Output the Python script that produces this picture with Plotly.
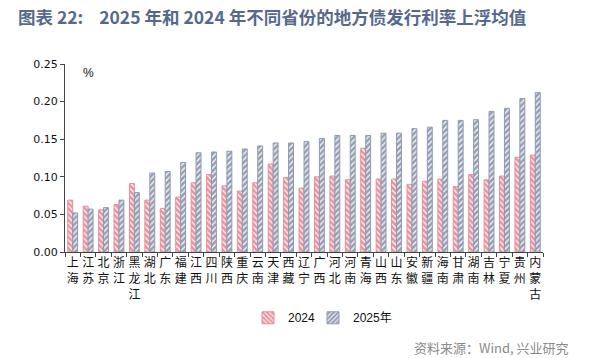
import plotly.graph_objects as go

provinces = ["上海", "江苏", "北京", "浙江", "黑龙江", "湖北", "广东", "福建", "江西", "四川",
             "陕西", "重庆", "云南", "天津", "西藏", "辽宁", "广西", "河北", "河南", "青海",
             "山西", "山东", "安徽", "新疆", "海南", "甘肃", "湖南", "吉林", "宁夏", "贵州", "内蒙古"]
v2024 = [0.069, 0.061, 0.056, 0.063, 0.091, 0.069, 0.058, 0.073, 0.092, 0.103,
         0.088, 0.081, 0.092, 0.117, 0.099, 0.085, 0.100, 0.101, 0.096, 0.138,
         0.097, 0.097, 0.090, 0.094, 0.097, 0.087, 0.103, 0.096, 0.101, 0.126, 0.129]
v2025 = [0.052, 0.057, 0.059, 0.069, 0.079, 0.105, 0.107, 0.119, 0.132, 0.133,
         0.134, 0.137, 0.141, 0.145, 0.145, 0.147, 0.151, 0.155, 0.155, 0.155,
         0.158, 0.158, 0.164, 0.166, 0.175, 0.175, 0.176, 0.187, 0.191, 0.204, 0.212]
yticks = [0, 0.05, 0.10, 0.15, 0.20, 0.25]

labels = ["<br>".join(list(p)) for p in provinces]

fig = go.Figure()
fig.add_trace(go.Bar(
    x=labels, y=v2024, name="2024",
    marker=dict(color="white",
                line=dict(color="#E58E9A", width=1),
                pattern=dict(shape="\\", fgcolor="#D02A40", bgcolor="white", size=4, solidity=0.7)),
))
fig.add_trace(go.Bar(
    x=labels, y=v2025, name="2025年",
    marker=dict(color="white",
                line=dict(color="#8D9AB6", width=1),
                pattern=dict(shape="/", fgcolor="#2F3F63", bgcolor="white", size=4, solidity=0.7)),
))
# invisible spacer entry so the last legend label is not clipped
fig.add_trace(go.Scatter(x=[None], y=[None], mode="markers", name="\u00a0",
                         marker=dict(color="rgba(0,0,0,0)", size=1), hoverinfo="skip"))

fig.update_layout(
    width=589, height=358,
    margin=dict(l=65, r=46, t=64, b=106),
    paper_bgcolor="white", plot_bgcolor="white",
    barmode="group", bargap=0.36, bargroupgap=0.0,
    font=dict(family="Noto Sans CJK SC, sans-serif", size=12, color="#111"),
    title=dict(text="图表 22:\u00a0\u00a0\u00a0\u00a02025 年和 2024 年不同省份的地方债发行利率上浮均值",
               x=18/589, xanchor="left", y=1-18/358, yanchor="middle",
               font=dict(family="Noto Sans CJK SC, sans-serif", size=17.5, color="#56698C", weight="bold")),
    showlegend=True,
    legend=dict(orientation="h", x=(248-65)/478, xanchor="left", y=-0.35, yanchor="middle",
                font=dict(family="Liberation Sans, Noto Sans CJK SC, sans-serif", size=12, color="#111"),
                entrywidth=20, entrywidthmode="pixels", itemwidth=30,
                bgcolor="rgba(0,0,0,0)"),
    annotations=[
        dict(text="%", xref="paper", yref="paper", x=16/478, y=0.95, xanchor="left", yanchor="middle",
             showarrow=False, font=dict(family="Liberation Sans, sans-serif", size=12, color="#111")),
        dict(text="资料来源：Wind, 兴业研究", xref="paper", yref="paper",
             x=(571-65)/478, y=-(347-252)/188, xanchor="right", yanchor="middle",
             showarrow=False, font=dict(family="Noto Sans CJK SC, sans-serif", size=13, color="#8A8A8A")),
    ],
)

fig.update_yaxes(range=[0, 0.25], tickvals=yticks, tickformat=".2f",
                 showline=True, linecolor="#444", linewidth=1,
                 ticks="outside", ticklen=4, tickcolor="#444",
                 showgrid=False, zeroline=False,
                 tickfont=dict(family="DejaVu Sans, sans-serif", size=11, color="#111"))
fig.update_xaxes(showline=True, linecolor="#444", linewidth=1,
                 ticks="outside", ticklen=4, tickcolor="#444", tickson="boundaries",
                 showgrid=False, tickangle=0,
                 tickfont=dict(family="Noto Sans CJK SC, sans-serif", size=12, color="#111"))

fig.write_html("out.html", config={"displayModeBar": False},
               post_script="document.body.style.margin='0';document.body.style.padding='0';")
